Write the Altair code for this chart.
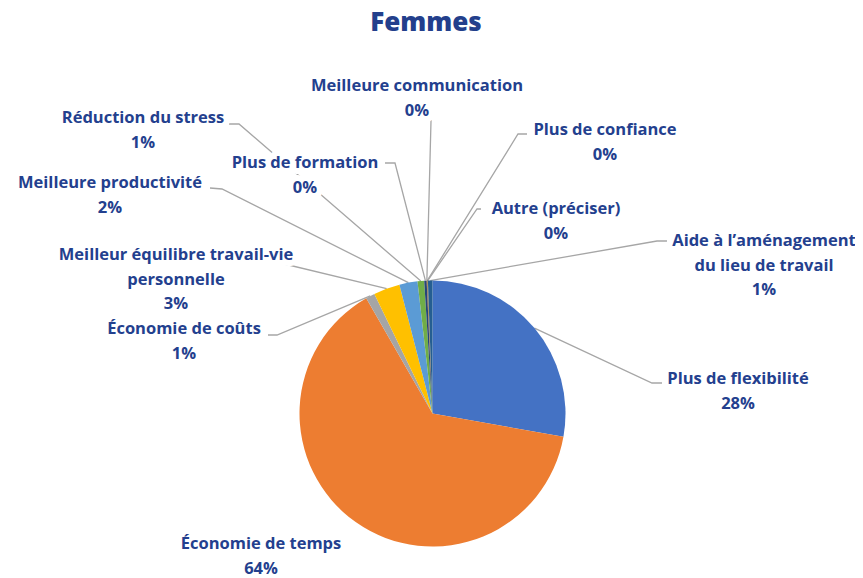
import math
import altair as alt
import pandas as pd

# ---------------- data ----------------
categories = [
    "Plus de flexibilité",
    "Économie de temps",
    "Économie de coûts",
    "Meilleur équilibre travail-vie personnelle",
    "Meilleure productivité",
    "Réduction du stress",
    "Plus de formation",
    "Meilleure communication",
    "Plus de confiance",
    "Autre (préciser)",
    "Aide à l’aménagement du lieu de travail",
]
values = [27.8, 63.9, 1.1, 3.2, 2.2, 0.8, 0.3, 0.05, 0.05, 0.05, 0.55]

# ---------------- style / layout ----------------
colors = ["#4472C4", "#ED7D31", "#A5A5A5", "#FFC000", "#5B9BD5", "#70AD47",
          "#264478", "#9E480E", "#636363", "#997300", "#255E91"]
label_color = "#23408E"
line_color = "#A6A6A6"
font = "Open Sans"
title_text = "Femmes"

# wrapped names of labels
wrapped = {
    "Meilleur équilibre travail-vie personnelle": ["Meilleur équilibre travail-vie", "personnelle"],
    "Aide à l’aménagement du lieu de travail": ["Aide à l’aménagement", "du lieu de travail"],
}
# first-line centre of each label (page px)
label_x = [738, 261, 184, 176, 110, 143, 305, 417, 605, 556, 764]
label_y = [379, 544, 329, 255, 183, 118, 163, 86, 130, 209, 241]
line_h = 24.5
# leader-line anchor at label and elbow (None => no leader)
anchor = [(662, 383), None, (268, 335), (268, 260), (210, 188), (229, 124),
          (385, 163), (431, 120), (527, 134), (481, 209), (667, 241)]
elbow = [(652, 383), None, (277, 335), (272, 261), (222, 189), (239, 124),
         (395, 163), (431, 121), (518, 134), (477, 209), (657, 241)]

W, H, M = 847, 570, 8
cx, cy, R = 432.5, 413.5, 133

total = sum(values)

pie_df = pd.DataFrame({"category": categories, "value": values, "idx": range(len(values))})

# leader lines: anchor -> elbow -> slice edge at mid angle
rows = []
cum = 0.0
for i, v in enumerate(values):
    mid = (cum + v / 2) / total * 2 * math.pi
    cum += v
    if anchor[i] is None:
        continue
    ex = cx + R * math.sin(mid)
    ey = cy - R * math.cos(mid)
    pts = [anchor[i], elbow[i], (ex, ey)]
    for s, (px, py) in enumerate(pts):
        rows.append({"lid": i, "seq": s, "x": px, "y": py})
lines_df = pd.DataFrame(rows)

trows = []
for i, c in enumerate(categories):
    pct = f"{round(values[i] / total * 100)}%"
    parts = wrapped.get(c, [c]) + [pct]
    for k, t in enumerate(parts):
        trows.append({"x": label_x[i], "y": label_y[i] + k * line_h, "t": t})
text_df = pd.DataFrame(trows)

title_df = pd.DataFrame({"x": [426], "y": [23], "t": [title_text]})

xs = alt.Scale(domain=[M, M + W], nice=False, zero=False)
ys = alt.Scale(domain=[M, M + H], nice=False, zero=False, reverse=True)

pie = alt.Chart(pie_df).mark_arc(outerRadius=R).encode(
    theta=alt.Theta("value:Q", stack=True),
    color=alt.Color("category:N", scale=alt.Scale(domain=categories, range=colors), legend=None),
    order=alt.Order("idx:Q"),
    x=alt.value(cx - M),
    y=alt.value(cy - M),
)

leaders = alt.Chart(lines_df).mark_line(color=line_color, strokeWidth=1.3).encode(
    x=alt.X("x:Q", scale=xs, axis=None),
    y=alt.Y("y:Q", scale=ys, axis=None),
    detail="lid:N",
    order="seq:Q",
)

enc = dict(
    x=alt.X("x:Q", scale=xs, axis=None),
    y=alt.Y("y:Q", scale=ys, axis=None),
    text="t:N",
)

halo = alt.Chart(text_df).mark_text(
    font=font, fontSize=16.5, fontWeight="bold", color="white",
    stroke="white", strokeWidth=12, strokeJoin="round",
    align="center", baseline="middle",
).encode(**enc)

labels = alt.Chart(text_df).mark_text(
    font=font, fontSize=16.5, fontWeight="bold", color=label_color,
    align="center", baseline="middle",
).encode(**enc)

title = alt.Chart(title_df).mark_text(
    font="Open Sans", fontSize=26, fontWeight=800, color="#233F8C",
    align="center", baseline="middle",
).encode(**enc)

chart = alt.layer(leaders, pie, halo, labels, title).properties(
    width=W, height=H, padding=0, autosize="none", background="white"
).configure_view(stroke=None)

chart.save("out.html", embed_options={"renderer": "svg", "actions": False})
